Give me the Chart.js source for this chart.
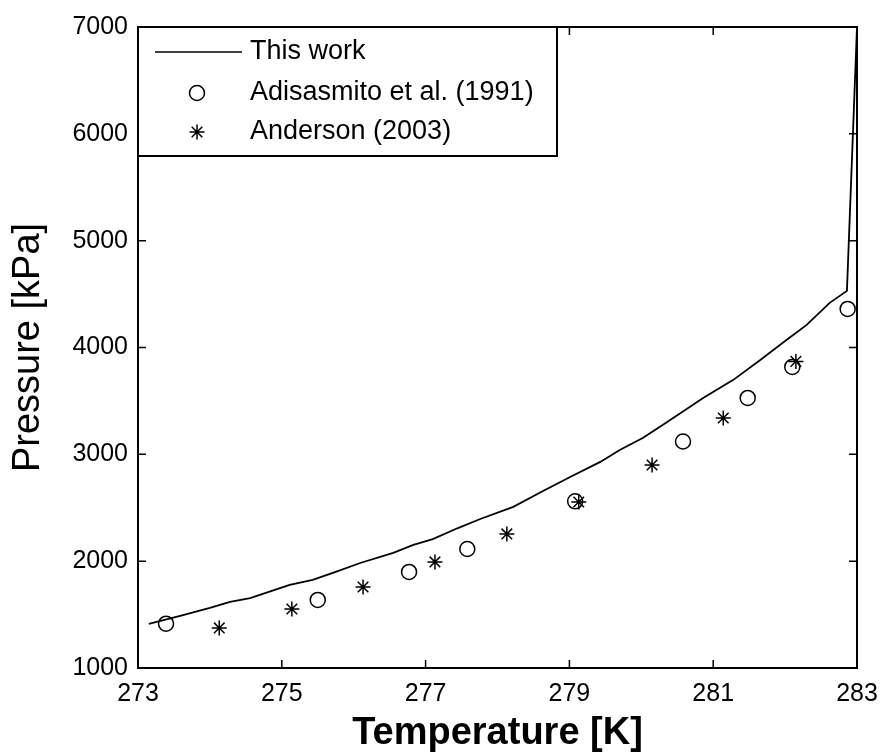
<!DOCTYPE html>
<html>
<head>
<meta charset="utf-8">
<script src="https://cdn.jsdelivr.net/npm/chart.js@4.4.1/dist/chart.umd.min.js"></script>
<style>
  html, body { margin: 0; padding: 0; background: #fff; }
  #wrap { width: 883px; height: 754px; }
</style>
</head>
<body>
<div id="wrap"><canvas id="chart" width="883" height="754"></canvas></div>
<script>
const FONT = "'Liberation Sans', Arial, Helvetica, sans-serif";

// model curve ("This work")
const modelT = [273.15, 273.6, 274.0, 274.28, 274.56, 274.85, 275.11, 275.43, 275.75, 276.09,
  276.55, 276.83, 277.1, 277.45, 277.76, 278.22, 278.6, 279.01, 279.43, 279.7,
  280.02, 280.36, 280.86, 281.28, 281.65, 282.0, 282.3, 282.62, 282.86, 283.0];
const modelP = [1412, 1490, 1562, 1618, 1655, 1720, 1777, 1824, 1900, 1983,
  2077, 2152, 2207, 2310, 2395, 2508, 2645, 2788, 2929, 3041,
  3153, 3303, 3528, 3697, 3880, 4060, 4212, 4418, 4530, 7000];

// Adisasmito et al. (1991)
const adisT = [273.39, 275.5, 276.77, 277.58, 279.08, 280.58, 281.48, 282.1, 282.87];
const adisP = [1415, 1637, 1899, 2114, 2560, 3120, 3528, 3818, 4361];

// Anderson (2003)
const andT = [274.13, 275.14, 276.13, 277.13, 278.13, 279.13, 280.15, 281.14, 282.15];
const andP = [1375, 1552, 1758, 1993, 2255, 2554, 2900, 3340, 3870];

const xTicks = [273, 275, 277, 279, 281, 283];
const yTicks = [1000, 2000, 3000, 4000, 5000, 6000, 7000];

const toXY = (xs, ys) => xs.map((x, i) => ({ x: x, y: ys[i] }));

// frame on top/right, inward ticks on all sides, boxed legend top-left
const framePlugin = {
  id: "frame",
  afterDraw(chart) {
    const ctx = chart.ctx;
    const { left, right, top, bottom } = chart.chartArea;
    const xs = chart.scales.x;
    const ys = chart.scales.y;
    const tick = 8;

    ctx.save();
    ctx.strokeStyle = "#000";
    ctx.lineWidth = 2;
    ctx.beginPath();
    ctx.moveTo(left, top);
    ctx.lineTo(right, top);
    ctx.lineTo(right, bottom);
    ctx.stroke();

    ctx.lineWidth = 1.5;
    ctx.beginPath();
    xTicks.forEach((v) => {
      const px = xs.getPixelForValue(v);
      ctx.moveTo(px, bottom);
      ctx.lineTo(px, bottom - tick);
      ctx.moveTo(px, top);
      ctx.lineTo(px, top + tick);
    });
    yTicks.forEach((v) => {
      const py = ys.getPixelForValue(v);
      ctx.moveTo(left, py);
      ctx.lineTo(left + tick, py);
      ctx.moveTo(right, py);
      ctx.lineTo(right - tick, py);
    });
    ctx.stroke();

    // legend
    const bx = left, by = top, bw = 419, bh = 129;
    ctx.fillStyle = "#fff";
    ctx.fillRect(bx, by, bw, bh);
    ctx.lineWidth = 2;
    ctx.strokeRect(bx, by, bw, bh);

    const ds = chart.data.datasets;
    const rows = [by + 25, by + 66, by + 105];
    const markX = left + 59;
    const textX = left + 112;

    ctx.lineWidth = 1.5;
    ctx.beginPath();
    ctx.moveTo(left + 17, rows[0]);
    ctx.lineTo(left + 104, rows[0]);
    ctx.stroke();

    Chart.helpers.drawPoint(ctx, { pointStyle: "circle", radius: 7.5, borderWidth: 1.5 }, markX, rows[1]);
    ctx.lineWidth = 1.5;
    Chart.helpers.drawPoint(ctx, { pointStyle: "star", radius: 7.5, borderWidth: 1.5 }, markX, rows[2]);

    ctx.fillStyle = "#000";
    ctx.font = "27px " + FONT;
    ctx.textBaseline = "middle";
    ctx.textAlign = "left";
    ds.forEach((d, i) => ctx.fillText(d.label, textX, rows[i]));
    ctx.restore();
  },
};

new Chart(document.getElementById("chart"), {
  type: "scatter",
  data: {
    datasets: [
      {
        label: "This work",
        data: toXY(modelT, modelP),
        showLine: true,
        borderColor: "#000",
        borderWidth: 1.8,
        pointRadius: 0,
        tension: 0,
        fill: false,
      },
      {
        label: "Adisasmito et al. (1991)",
        data: toXY(adisT, adisP),
        pointStyle: "circle",
        pointRadius: 7.5,
        borderColor: "#000",
        backgroundColor: "rgba(0,0,0,0)",
        borderWidth: 1.5,
      },
      {
        label: "Anderson (2003)",
        data: toXY(andT, andP),
        pointStyle: "star",
        pointRadius: 7.5,
        borderColor: "#000",
        borderWidth: 1.5,
      },
    ],
  },
  options: {
    responsive: false,
    animation: false,
    events: [],
    layout: { padding: { top: 27, right: 26, left: 0, bottom: 0 } },
    scales: {
      x: {
        type: "linear",
        min: 273,
        max: 283,
        afterFit(scale) {
          scale.height = 86;
          scale.paddingLeft = 0;
          scale.paddingRight = 0;
        },
        afterBuildTicks(scale) { scale.ticks = xTicks.map((v) => ({ value: v })); },
        ticks: {
          color: "#000",
          padding: 11,
          font: { family: FONT, size: 25 },
          maxRotation: 0,
          callback: (v) => String(v),
        },
        grid: { display: false, drawTicks: false },
        border: { display: true, color: "#000", width: 2 },
        title: {
          display: true,
          text: "Temperature [K]",
          color: "#000",
          font: { family: FONT, size: 38, weight: "bold", lineHeight: 1.1 },
          padding: { top: 0, bottom: 0 },
        },
      },
      y: {
        type: "linear",
        min: 1000,
        max: 7000,
        afterFit(scale) {
          scale.width = 138;
          scale.paddingTop = 0;
          scale.paddingBottom = 0;
        },
        afterBuildTicks(scale) { scale.ticks = yTicks.map((v) => ({ value: v })); },
        ticks: {
          color: "#000",
          padding: 10,
          font: { family: FONT, size: 25 },
          callback: (v) => String(v),
        },
        grid: { display: false, drawTicks: false },
        border: { display: true, color: "#000", width: 2 },
        title: {
          display: true,
          text: "Pressure [kPa]",
          color: "#000",
          font: { family: FONT, size: 38, lineHeight: 1.2 },
          padding: { top: 6, bottom: 0 },
        },
      },
    },
    plugins: {
      legend: { display: false },
      tooltip: { enabled: false },
    },
  },
  plugins: [framePlugin],
});
</script>
</body>
</html>
